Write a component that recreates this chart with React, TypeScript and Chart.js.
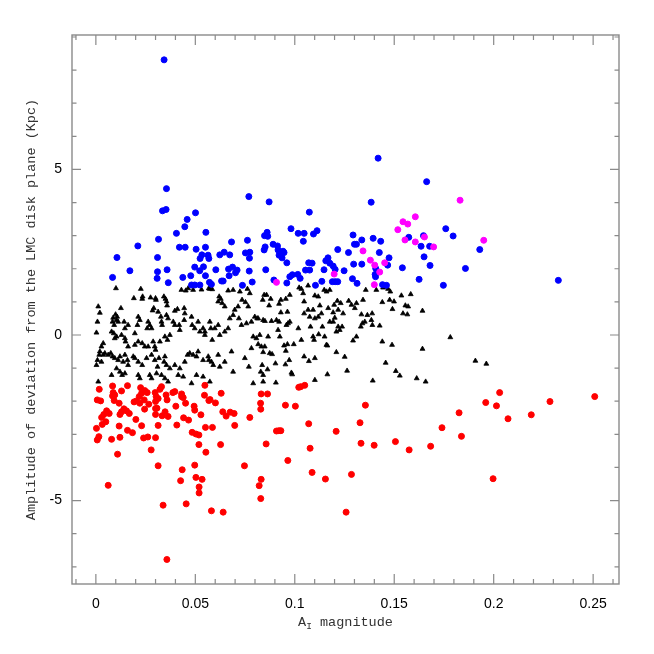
import React, { useEffect, useRef } from "react";
import { Chart, registerables } from "chart.js";

Chart.register(...registerables);

type P = [number, number];

const xTickValues = [0, 0.05, 0.1, 0.15, 0.2, 0.25];
const xTickLabels = ["0", "0.05", "0.1", "0.15", "0.2", "0.25"];
const yTickValues = [-5, 0, 5];
const yTickLabels = ["-5", "0", "5"];
const xMinorStep = 0.01;
const yMinorStep = 1;
const xRange = [-0.012, 0.263];
const yRange = [-7.52, 9.06];

const blackPoints: P[] = [
  [0.0101,1.41],[0.0226,1.39],[0.0191,1.11],[0.0235,1.16],[0.0233,1.09],[0.0275,1.13],[0.030,1.11],[0.0302,1.06],[0.0342,1.16],[0.035,1.09],[0.0355,1.01],[0.0358,0.89],[0.043,1.36],[0.0452,1.34],[0.0464,1.41],[0.0489,1.36],[0.0531,1.37],[0.0573,1.39],[0.0585,1.38],[0.0568,1.41],[0.062,1.16],[0.0628,1.09],[0.0615,1.01],[0.0635,0.96],[0.0648,0.86],[0.0665,1.34],[0.069,1.36],[0.0724,1.31],[0.0762,1.39],[0.0774,1.26],[0.0735,1.06],[0.0752,0.99],[0.0766,0.86],[0.0715,0.86],[0.0698,0.76],[0.0012,0.86],[0.002,0.67],[0.0008,0.40],[0.0003,0.07],[0.0099,0.62],[0.0087,0.52],[0.0107,0.55],[0.0104,0.45],[0.0084,0.40],[0.0112,0.40],[0.0092,0.30],[0.0142,0.40],[0.0146,0.20],[0.0162,0.30],[0.0126,0.81],[0.0213,0.55],[0.0221,0.45],[0.0209,0.30],[0.0263,0.40],[0.0271,0.30],[0.0258,0.20],[0.028,0.20],[0.0291,0.81],[0.0285,0.74],[0.0313,0.70],[0.0327,0.55],[0.033,0.40],[0.0333,0.30],[0.0355,0.60],[0.0363,0.50],[0.0397,0.73],[0.041,0.78],[0.0444,0.81],[0.0447,0.65],[0.0389,0.40],[0.0397,0.30],[0.0419,0.30],[0.0422,0.15],[0.0444,0.45],[0.0481,0.55],[0.0484,0.30],[0.0497,0.20],[0.0514,0.40],[0.0523,0.10],[0.0539,0.20],[0.0548,0.10],[0.0548,0.00],[0.0573,0.40],[0.0578,0.20],[0.0585,-0.15],[0.0598,0.20],[0.0615,0.30],[0.0623,0.00],[0.0648,0.10],[0.0665,0.20],[0.0673,0.50],[0.069,0.60],[0.0719,0.50],[0.0732,0.30],[0.0757,0.35],[0.0782,0.40],[0.0791,-0.05],[0.0799,0.55],[0.0811,0.50],[0.0079,0.10],[0.009,0.05],[0.0095,-0.10],[0.0104,-0.05],[0.0129,0.00],[0.0146,-0.10],[0.0149,-0.20],[0.0162,-0.35],[0.0196,0.05],[0.0196,-0.30],[0.0213,-0.20],[0.0233,-0.25],[0.0246,-0.35],[0.0263,-0.35],[0.0296,-0.35],[0.0288,-0.20],[0.030,-0.45],[0.0322,-0.20],[0.0347,-0.05],[0.036,-0.15],[0.0372,0.00],[0.0037,-0.25],[0.0028,-0.35],[0.002,-0.50],[0.0017,-0.60],[0.0008,-0.76],[0.0003,-0.91],[0.0028,-0.81],[0.0037,-0.60],[0.0045,-0.55],[0.0062,-0.60],[0.0075,-0.55],[0.0084,-0.65],[0.0095,-0.70],[0.0112,-0.76],[0.0121,-0.65],[0.0137,-0.81],[0.0146,-0.60],[0.0159,-0.76],[0.0162,-0.91],[0.0188,-0.65],[0.0196,-0.70],[0.0213,-0.81],[0.0233,-0.91],[0.0255,-0.70],[0.028,-0.60],[0.0296,-0.76],[0.0317,-0.70],[0.031,-0.96],[0.0347,-0.65],[0.0343,-0.81],[0.0355,-0.91],[0.0372,-1.01],[0.0397,-0.91],[0.0422,-1.01],[0.0447,-0.81],[0.0461,-0.60],[0.0472,-0.55],[0.0489,-0.60],[0.0506,-0.65],[0.0514,-0.50],[0.0539,-0.76],[0.0565,-0.65],[0.0568,-0.76],[0.0581,-0.81],[0.059,-0.91],[0.0615,-0.60],[0.0623,-0.96],[0.0648,-0.81],[0.0682,-0.50],[0.069,-1.11],[0.0749,-0.70],[0.0769,-0.96],[0.0782,-0.40],[0.0791,-1.46],[0.0807,-0.10],[0.0012,-1.41],[0.0079,-1.21],[0.0104,-1.01],[0.0121,-1.11],[0.0132,-1.21],[0.0146,-1.16],[0.0213,-1.21],[0.0221,-1.31],[0.0271,-1.21],[0.028,-1.31],[0.0305,-1.16],[0.033,-1.21],[0.0347,-1.31],[0.0363,-1.41],[0.0414,-1.21],[0.0439,-1.26],[0.0481,-1.46],[0.0506,-1.21],[0.0539,-1.26],[0.0573,-1.41],
  [0.0846,1.21],[0.0858,1.21],[0.0839,1.06],[0.0879,1.09],[0.0871,0.89],[0.0921,0.94],[0.093,1.06],[0.0955,1.09],[0.0975,1.21],[0.093,0.68],[0.0963,0.70],[0.0816,0.50],[0.0841,0.45],[0.085,0.42],[0.0883,0.42],[0.0908,0.45],[0.0921,0.40],[0.0958,0.30],[0.0966,0.35],[0.0975,0.40],[0.0916,0.15],[0.0925,-0.05],[0.0866,-0.05],[0.0824,0.0],[0.1022,1.43],[0.1033,1.39],[0.1067,1.49],[0.1042,1.26],[0.1101,1.19],[0.1118,1.16],[0.1126,0.89],[0.116,1.31],[0.1176,1.36],[0.1148,1.36],[0.1047,1.01],[0.1047,0.65],[0.1067,0.76],[0.1075,0.55],[0.1092,0.76],[0.1101,0.50],[0.1118,0.55],[0.1134,0.65],[0.1018,0.20],[0.1079,0.25],[0.1139,0.25],[0.1033,-0.15],[0.1092,-0.05],[0.1097,-0.15],[0.112,0.02],[0.115,-0.05],[0.1159,-0.30],[0.1168,0.81],[0.1198,0.91],[0.1214,1.03],[0.1231,0.96],[0.1218,0.76],[0.1193,0.68],[0.1201,0.52],[0.1176,0.40],[0.1193,0.40],[0.1218,0.25],[0.1238,0.25],[0.1243,0.65],[0.1271,1.03],[0.1285,0.91],[0.1302,0.81],[0.131,0.96],[0.1226,0.15],[0.1209,0.10],[0.1335,0.62],[0.134,0.35],[0.1332,0.25],[0.1352,0.40],[0.1365,0.60],[0.1389,0.65],[0.1385,0.45],[0.139,0.30],[0.1427,0.28],[0.1343,1.06],[0.1357,1.36],[0.141,1.36],[0.1444,1.43],[0.146,1.46],[0.1469,1.39],[0.148,1.31],[0.144,0.99],[0.1477,1.06],[0.1499,1.01],[0.1491,0.78],[0.1536,1.19],[0.1583,1.23],[0.1556,0.89],[0.157,0.86],[0.1544,0.65],[0.1566,0.62],[0.1642,0.73],[0.131,-0.05],[0.1293,-0.17],[0.144,-0.20],[0.1489,-0.30],[0.1642,-0.42],[0.1782,-0.07],[0.0832,-0.35],[0.0849,-0.35],[0.0816,-0.28],[0.0841,-0.52],[0.0874,-0.55],[0.0886,-0.58],[0.0946,-0.32],[0.0963,-0.28],[0.0995,-0.28],[0.0955,-0.48],[0.0972,-0.76],[0.0953,-0.89],[0.0903,-0.86],[0.1047,-0.65],[0.1071,-0.79],[0.1101,-0.70],[0.1164,-0.32],[0.1209,-0.52],[0.1251,-0.66],[0.0836,-0.91],[0.0829,-1.11],[0.0863,-1.04],[0.0841,-1.21],[0.0841,-1.41],[0.0983,-1.14],[0.0987,-1.19],[0.0905,-1.44],[0.1101,-1.36],[0.1164,-1.19],[0.1263,-1.08],[0.1392,-1.38],[0.1457,-0.84],[0.1508,-1.09],[0.1528,-1.23],[0.1613,-1.31],[0.1658,-1.41],[0.1908,-0.78],[0.1963,-0.87]
];

const bluePoints: P[] = [
  [0.0343,8.31],[0.0355,4.42],[0.0335,3.75],[0.0353,3.79],[0.0769,4.18],[0.0871,4.02],[0.0501,3.69],[0.0459,3.49],[0.0447,3.27],[0.0405,3.07],[0.0315,2.89],[0.0211,2.69],[0.0106,2.34],[0.0084,1.74],[0.0171,1.94],[0.031,2.34],[0.031,1.91],[0.0308,1.71],[0.0358,1.97],[0.0364,1.58],[0.042,2.65],[0.0449,2.65],[0.0437,1.74],[0.0477,1.79],[0.0504,2.59],[0.0497,2.05],[0.0553,3.10],[0.0551,2.65],[0.0524,2.31],[0.0533,2.42],[0.0564,2.41],[0.0568,2.31],[0.0522,1.94],[0.0541,2.06],[0.0551,1.79],[0.0571,1.59],[0.0581,1.53],[0.0481,1.51],[0.0497,1.51],[0.0523,1.51],[0.0603,1.97],[0.0623,2.42],[0.0645,2.50],[0.0673,2.42],[0.0682,2.81],[0.0632,1.63],[0.064,1.63],[0.0667,1.99],[0.0687,2.05],[0.067,1.79],[0.0702,1.88],[0.071,1.96],[0.0737,1.50],[0.0752,2.48],[0.0774,2.50],[0.0772,2.32],[0.0762,2.86],[0.0771,1.93],[0.0786,1.60],[0.0848,3.00],[0.0861,3.10],[0.0864,2.98],[0.0851,2.66],[0.0846,2.57],[0.0854,1.97],[0.0891,2.74],[0.0913,2.69],[0.0916,2.57],[0.0921,2.41],[0.0936,2.33],[0.0941,2.53],[0.0946,2.49],[0.096,2.18],[0.096,1.57],[0.0895,1.66],[0.0975,1.76],[0.0988,1.82],[0.1015,1.83],[0.1027,1.71],[0.0981,3.21],[0.1017,3.07],[0.1047,3.07],[0.1043,2.83],[0.1073,3.71],[0.1094,3.05],[0.1112,3.15],[0.107,2.18],[0.1087,2.17],[0.1054,1.96],[0.1075,1.96],[0.1104,1.50],[0.1136,1.62],[0.1147,1.97],[0.1156,2.24],[0.1176,2.17],[0.1193,2.08],[0.1167,2.33],[0.1203,1.98],[0.1189,1.61],[0.1203,1.61],[0.1216,1.61],[0.1216,2.58],[0.1248,1.94],[0.127,2.49],[0.1293,3.02],[0.1296,2.14],[0.129,1.70],[0.1313,1.56],[0.13,2.74],[0.131,2.74],[0.1337,2.14],
  [0.1419,5.34],[0.1663,4.63],[0.1384,4.01],[0.1337,2.87],[0.1394,2.92],[0.1432,2.83],[0.1425,2.49],[0.1474,2.33],[0.1467,2.11],[0.1407,2.01],[0.1404,1.83],[0.1406,1.76],[0.1441,1.52],[0.1461,1.50],[0.1541,2.03],[0.1573,2.95],[0.1647,3.00],[0.1635,2.68],[0.1678,2.68],[0.165,2.36],[0.168,2.10],[0.1625,1.68],[0.1747,1.50],[0.1759,3.21],[0.1796,2.99],[0.1858,2.01],[0.193,2.58],[0.2325,1.65]
];

const magentaPoints: P[] = [
  [0.0908,1.59],[0.1198,1.84],[0.1831,4.07],[0.1606,3.57],[0.1544,3.42],[0.1568,3.35],[0.1518,3.18],[0.1554,2.87],[0.1606,2.81],[0.1652,2.96],[0.1698,2.66],[0.195,2.86],[0.1343,2.54],[0.138,2.26],[0.1402,2.11],[0.1452,2.18],[0.1427,1.90],[0.14,1.52]
];

const redPoints: P[] = [
  [0.0017,-1.64],[0.0084,-1.54],[0.0159,-1.53],[0.0087,-1.74],[0.0095,-1.81],[0.0084,-1.84],[0.0129,-1.69],[0.0007,-1.96],[0.0024,-1.99],[0.0092,-1.98],[0.0117,-2.06],[0.0054,-2.29],[0.0067,-2.37],[0.004,-2.40],[0.0029,-2.49],[0.005,-2.62],[0.0032,-2.70],[0.0003,-2.82],[0.0015,-3.07],[0.0007,-3.17],[0.0079,-3.15],[0.0121,-3.09],[0.0117,-2.75],[0.0121,-2.40],[0.0129,-2.32],[0.0141,-2.23],[0.0154,-2.29],[0.0168,-2.37],[0.0159,-2.88],[0.0184,-2.95],[0.0201,-2.55],[0.0109,-3.60],[0.0062,-4.54],[0.0192,-2.02],[0.0204,-1.99],[0.0218,-1.86],[0.023,-1.76],[0.0246,-1.68],[0.0258,-1.74],[0.0225,-1.59],[0.0221,-2.06],[0.0243,-1.96],[0.0266,-2.09],[0.0245,-2.24],[0.023,-2.74],[0.024,-3.11],[0.0261,-3.08],[0.0278,-3.47],[0.030,-3.10],[0.0313,-2.73],[0.030,-2.40],[0.030,-2.22],[0.0307,-2.21],[0.030,-2.01],[0.0303,-1.86],[0.0298,-1.74],[0.0313,-1.92],[0.033,-1.56],[0.0322,-1.64],[0.0353,-1.81],[0.0358,-1.96],[0.0333,-2.44],[0.0363,-2.46],[0.0348,-2.32],[0.0387,-1.74],[0.0397,-1.71],[0.0402,-2.15],[0.0407,-2.72],[0.0431,-1.78],[0.0439,-1.89],[0.0451,-2.06],[0.0431,-1.86],[0.0441,-2.50],[0.0466,-2.57],[0.0494,-2.15],[0.0497,-2.27],[0.0528,-2.41],[0.0484,-2.94],[0.0503,-2.99],[0.0518,-3.02],[0.0518,-3.31],[0.0553,-3.54],[0.0551,-2.79],[0.0548,-1.52],[0.0546,-1.82],[0.0568,-1.98],[0.0574,-1.95],[0.0601,-2.05],[0.063,-1.76],[0.0638,-2.32],[0.0655,-2.45],[0.0675,-2.33],[0.0695,-2.37],[0.0698,-2.73],[0.0586,-2.79],[0.0627,-3.31],[0.0497,-3.93],[0.0434,-4.07],[0.0426,-4.40],[0.0503,-4.30],[0.0534,-4.36],[0.0519,-4.59],[0.0519,-4.77],[0.0313,-3.95],[0.0338,-5.14],[0.0454,-5.10],[0.0581,-5.31],[0.064,-5.35],[0.0357,-6.78],[0.0747,-3.95],[0.0774,-2.49],[0.0831,-1.78],[0.0828,-2.06],[0.0829,-2.24],[0.0863,-1.78],[0.0856,-3.29],[0.0831,-4.36],[0.0821,-4.55],[0.0829,-4.94],
  [0.102,-1.58],[0.103,-1.56],[0.105,-1.52],[0.0953,-2.12],[0.1003,-2.15],[0.107,-2.68],[0.0908,-2.90],[0.092,-2.89],[0.093,-2.89],[0.1077,-3.42],[0.0965,-3.79],[0.1087,-4.15],[0.1154,-4.35],[0.1285,-4.21],[0.1258,-5.35],[0.1208,-2.91],[0.1328,-2.65],[0.1355,-2.12],[0.1333,-3.27],[0.1399,-3.33],[0.1506,-3.22],[0.1575,-3.47],[0.1683,-3.36],[0.174,-2.80],[0.1826,-2.35],[0.1838,-3.06],[0.196,-2.04],[0.203,-1.74],[0.2014,-2.14],[0.2072,-2.53],[0.2189,-2.41],[0.2283,-2.01],[0.1997,-4.34],[0.2508,-1.86]
];

const toXY = (pts: P[]) => pts.map(([x, y]) => ({ x, y }));

const titleFamily = "'Liberation Mono', 'DejaVu Sans Mono', monospace";

const framePlugin = {
  id: "frameTicks",
  afterDatasetsDraw(chart: any) {
    const { ctx, chartArea, scales } = chart;
    const { left, right, top, bottom } = chartArea;
    const xs = scales.x;
    const ys = scales.y;
    ctx.save();
    ctx.strokeStyle = "#8a8a8a";
    ctx.lineWidth = 1.4;
    ctx.strokeRect(left, top, right - left, bottom - top);
    ctx.lineWidth = 1.2;
    ctx.beginPath();
    const isMajor = (v: number, majors: number[]) => majors.some((m) => Math.abs(m - v) < 1e-6);
    for (let i = Math.ceil(xRange[0] / xMinorStep); i * xMinorStep <= xRange[1]; i++) {
      const v = i * xMinorStep;
      const px = xs.getPixelForValue(v);
      const len = isMajor(v, xTickValues) ? 10 : 5;
      ctx.moveTo(px, bottom);
      ctx.lineTo(px, bottom - len);
      ctx.moveTo(px, top);
      ctx.lineTo(px, top + len);
    }
    for (let j = Math.ceil(yRange[0] / yMinorStep); j * yMinorStep <= yRange[1]; j++) {
      const v = j * yMinorStep;
      const py = ys.getPixelForValue(v);
      const len = isMajor(v, yTickValues) ? 9 : 4.5;
      ctx.moveTo(left, py);
      ctx.lineTo(left + len, py);
      ctx.moveTo(right, py);
      ctx.lineTo(right - len, py);
    }
    ctx.stroke();

    // axis titles
    ctx.fillStyle = "#333";
    ctx.textBaseline = "alphabetic";
    const mainFont = `13.5px ${titleFamily}`;
    const subFont = `9.5px ${titleFamily}`;
    ctx.font = mainFont;
    const wA = ctx.measureText("A").width;
    const wRest = ctx.measureText(" magnitude").width;
    ctx.font = subFont;
    const wI = ctx.measureText("I").width;
    const total = wA + wI + wRest;
    const cx = (left + right) / 2;
    let sx = cx - total / 2;
    const base = 626;
    ctx.textAlign = "left";
    ctx.font = mainFont;
    ctx.fillText("A", sx, base);
    sx += wA;
    ctx.font = subFont;
    ctx.fillText("I", sx, base + 3);
    sx += wI;
    ctx.font = mainFont;
    ctx.fillText(" magnitude", sx, base);

    ctx.translate(31, (top + bottom) / 2);
    ctx.rotate(-Math.PI / 2);
    ctx.textAlign = "center";
    ctx.font = mainFont;
    ctx.fillText("Amplitude of deviation from the LMC disk plane (Kpc)", 0, 4);
    ctx.restore();
  },
};

export default function App() {
  const ref = useRef<HTMLCanvasElement | null>(null);
  useEffect(() => {
    if (!ref.current) return;
    const circle = (color: string, order: number, data: P[]) => ({
      data: toXY(data),
      pointStyle: "circle",
      pointRadius: 3,
      pointBorderWidth: 1,
      backgroundColor: color,
      borderColor: color,
      order,
    });
    const chart = new Chart(ref.current, {
      type: "scatter",
      data: {
        datasets: [
          circle("#ff00ff", 0, magentaPoints) as any,
          circle("#0000ff", 1, bluePoints) as any,
          circle("#ff0000", 2, redPoints) as any,
          {
            data: toXY(blackPoints),
            pointStyle: "triangle",
            pointRadius: 2.8,
            pointBorderWidth: 0.8,
            backgroundColor: "#000",
            borderColor: "#000",
            order: 3,
          } as any,
        ],
      },
      options: {
        animation: false,
        responsive: false,
        devicePixelRatio: 1,
        layout: { padding: { top: 35, right: 35, left: 0, bottom: 0 } },
        plugins: { legend: { display: false }, tooltip: { enabled: false } },
        scales: {
          x: {
            type: "linear",
            min: xRange[0],
            max: xRange[1],
            grid: { display: false, drawTicks: false },
            border: { display: false },
            afterBuildTicks: (s: any) => {
              s.ticks = xTickValues.map((v) => ({ value: v }));
            },
            afterFit: (s: any) => {
              s.height = 70;
            },
            ticks: {
              padding: 12,
              color: "#000",
              font: { family: "'Liberation Sans', Arial, sans-serif", size: 14 },
              maxRotation: 0,
              autoSkip: false,
              callback: (_v: any, i: number) => xTickLabels[i],
            },
          },
          y: {
            type: "linear",
            min: yRange[0],
            max: yRange[1],
            grid: { display: false, drawTicks: false },
            border: { display: false },
            afterBuildTicks: (s: any) => {
              s.ticks = yTickValues.map((v) => ({ value: v }));
            },
            afterFit: (s: any) => {
              s.width = 72;
            },
            ticks: {
              padding: 10,
              color: "#000",
              font: { family: "'Liberation Sans', Arial, sans-serif", size: 14 },
              autoSkip: false,
              callback: (_v: any, i: number) => yTickLabels[i],
            },
          },
        },
      },
      plugins: [framePlugin],
    });
    return () => chart.destroy();
  }, []);
  return (
    <div style={{ position: "absolute", left: 0, top: 0, width: 654, height: 654, background: "#fff" }}>
      <canvas ref={ref} width={654} height={654} style={{ width: 654, height: 654 }} />
    </div>
  );
}
